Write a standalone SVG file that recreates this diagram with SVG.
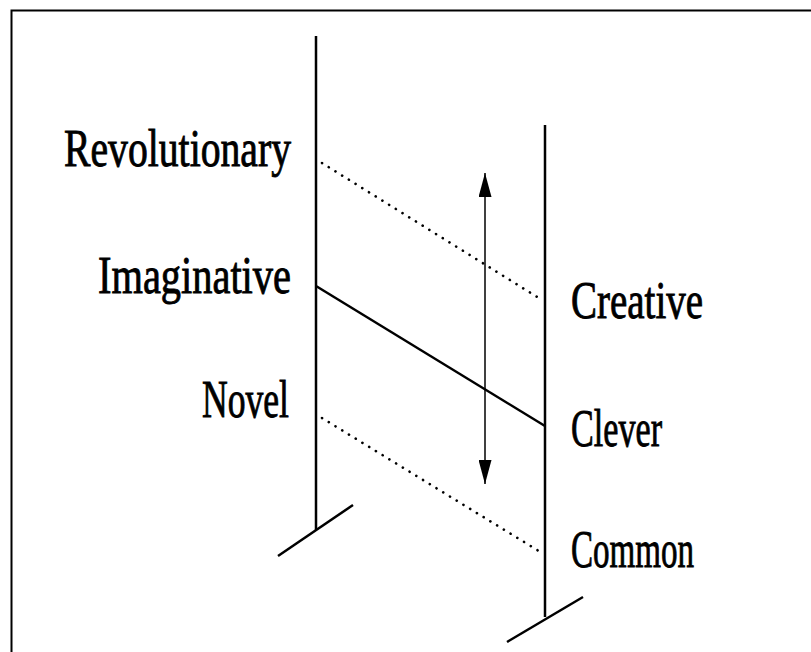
<svg xmlns="http://www.w3.org/2000/svg" width="811" height="652" viewBox="0 0 811 652">
<style>
.ln{stroke:#000;stroke-width:2.5;fill:none;stroke-linecap:butt}
.dot{stroke:#000;stroke-width:2.6;fill:none;stroke-dasharray:0.1 7.8;stroke-linecap:round}
.thin{stroke:#000;stroke-width:1.5;fill:none}
.lbl{font-family:"Liberation Serif","Times New Roman",serif;font-size:52px;fill:#000;stroke:#000;stroke-width:0.9}
</style>
<defs>
<marker id="ah" viewBox="0 0 24 13" refX="24" refY="6.5" markerWidth="24" markerHeight="13" markerUnits="userSpaceOnUse" orient="auto-start-reverse">
<path d="M0,0 L24,6.5 L0,13 z" fill="#000"/>
</marker>
</defs>
<rect width="811" height="652" fill="#fff"/>
<path d="M11.5,652 V10.5 H811" stroke="#000" stroke-width="2" fill="none"/>
<g id="left-pole">
<path class="ln" d="M316,36 V530"/>
<path class="ln" d="M278,556 L353,505"/>
</g>
<g id="right-pole">
<path class="ln" d="M545,125 V617"/>
<path class="ln" d="M507,642 L583,597"/>
</g>
<g id="connectors">
<path class="dot" d="M322,163 L542,300"/>
<path class="ln" d="M316,286 L545,426"/>
<path class="dot" d="M322,418 L542,553"/>
<path class="thin" d="M485,173 V484" marker-start="url(#ah)" marker-end="url(#ah)"/>
</g>
<g id="label-revolutionary"><text class="lbl" x="64" y="166" textLength="227" lengthAdjust="spacingAndGlyphs">Revolutionary</text></g>
<g id="label-imaginative"><text class="lbl" x="98" y="293" textLength="193" lengthAdjust="spacingAndGlyphs">Imaginative</text></g>
<g id="label-novel"><text class="lbl" x="202" y="417" textLength="87" lengthAdjust="spacingAndGlyphs">Novel</text></g>
<g id="label-creative"><text class="lbl" x="571" y="318" textLength="132" lengthAdjust="spacingAndGlyphs">Creative</text></g>
<g id="label-clever"><text class="lbl" x="571" y="446" textLength="91" lengthAdjust="spacingAndGlyphs">Clever</text></g>
<g id="label-common"><text class="lbl" x="571" y="567" textLength="123" lengthAdjust="spacingAndGlyphs">Common</text></g>
</svg>
